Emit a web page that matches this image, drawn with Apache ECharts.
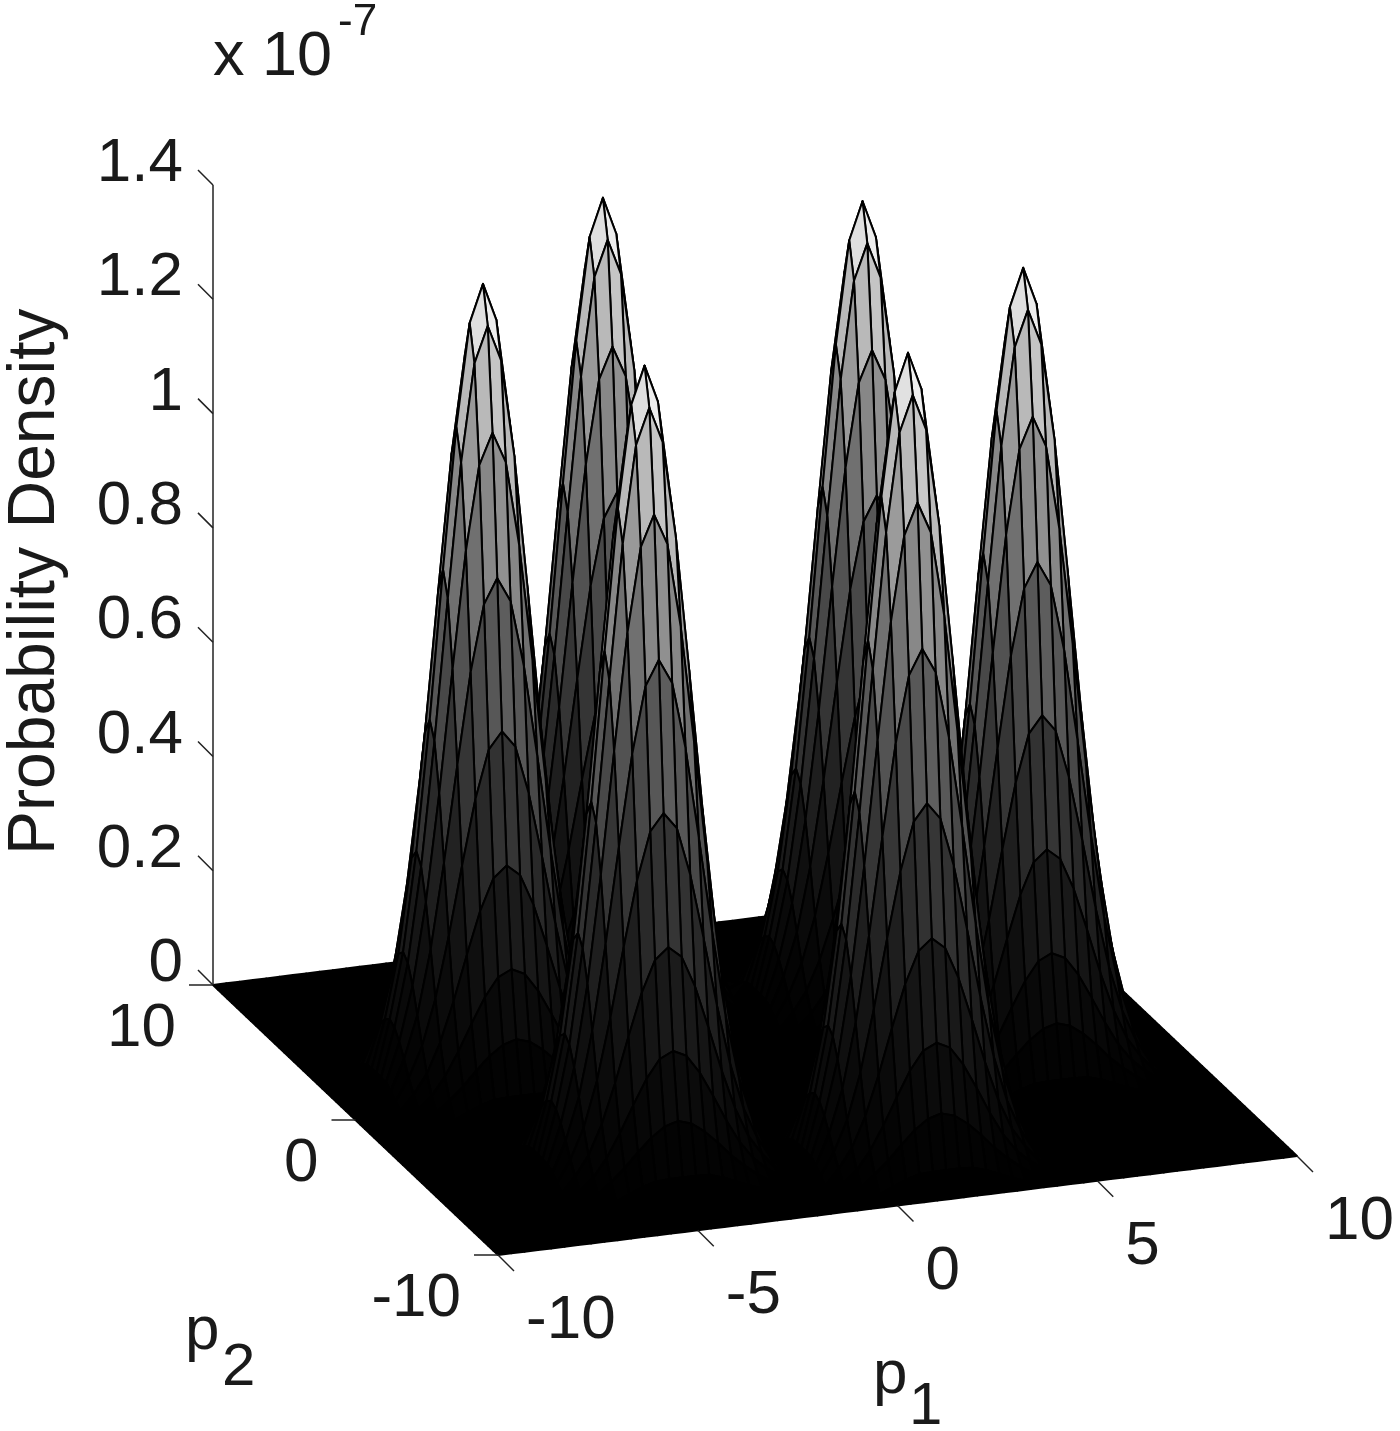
<!DOCTYPE html>
<html>
<head>
<meta charset="utf-8">
<title>Probability Density</title>
<script src="https://cdn.jsdelivr.net/npm/echarts@6/dist/echarts.min.js"></script>
<style>
  html, body { margin: 0; padding: 0; background: #fff; }
  #chart { width: 1400px; height: 1431px; }
</style>
</head>
<body>
<div id="chart"></div>
<script>
const p1Ticks = [-10, -5, 0, 5, 10];
const p2Ticks = [-10, 0, 10];
const zTicks = [0, 0.2, 0.4, 0.6, 0.8, 1, 1.2, 1.4];

// mesh spacing on both p axes, in p units
const meshStep = 1 / 3;
const meshSize = 61;

// where the six peaks stand, as mesh indices, and how tall they are (x 10^-7)
const peakCols = [11, 25, 16, 42, 34, 48];
const peakRows = [34, 48, 14, 41, 9, 24];
const peakHeights = [1.40, 1.40, 1.40, 1.40, 1.41, 1.40];

// shape of one peak around its top, percent of its height
const peakShape = [
  [0, 0, 0, 0, 0, 0, 0, 0, 0, 0, 0, 0, 0, 0, 0, 0, 0, 0, 0, 0, 0],
  [0, 0, 0, 0, 0, 0, 0, 0, 0, 0, 0, 0, 0, 0, 0, 0, 0, 0, 0, 0, 0],
  [0, 0, 0, 0.1, 0.4, 1.0, 1.7, 2.4, 2.9, 3.0, 3.0, 3.0, 2.9, 2.4, 1.7, 1.0, 0.4, 0.1, 0, 0, 0],
  [0, 0, 0.1, 0.5, 1.6, 2.9, 4.4, 6.2, 7.8, 9.0, 9.5, 9.0, 7.8, 6.2, 4.4, 2.9, 1.6, 0.5, 0.1, 0, 0],
  [0, 0, 0.4, 1.6, 3.1, 5.3, 8.2, 11.5, 14.6, 16.9, 17.7, 16.9, 14.6, 11.5, 8.2, 5.3, 3.1, 1.6, 0.4, 0, 0],
  [0, 0, 1.0, 2.9, 5.3, 9.0, 13.9, 19.5, 24.8, 28.7, 30.1, 28.7, 24.8, 19.5, 13.9, 9.0, 5.3, 2.9, 1.0, 0, 0],
  [0, 0, 1.7, 4.4, 8.2, 13.9, 21.5, 30.1, 38.2, 44.2, 46.3, 44.2, 38.2, 30.1, 21.5, 13.9, 8.2, 4.4, 1.7, 0, 0],
  [0, 0, 2.4, 6.2, 11.5, 19.5, 30.1, 42.1, 53.5, 61.8, 64.9, 61.8, 53.5, 42.1, 30.1, 19.5, 11.5, 6.2, 2.4, 0, 0],
  [0, 0, 2.9, 7.8, 14.6, 24.8, 38.2, 53.5, 68.1, 78.6, 82.5, 78.6, 68.1, 53.5, 38.2, 24.8, 14.6, 7.8, 2.9, 0, 0],
  [0, 0, 3.0, 9.0, 16.9, 28.7, 44.2, 61.8, 78.6, 90.8, 95.3, 90.8, 78.6, 61.8, 44.2, 28.7, 16.9, 9.0, 3.0, 0, 0],
  [0, 0, 3.0, 9.5, 17.7, 30.1, 46.3, 64.9, 82.5, 95.3, 100, 95.3, 82.5, 64.9, 46.3, 30.1, 17.7, 9.5, 3.0, 0, 0],
  [0, 0, 3.0, 9.0, 16.9, 28.7, 44.2, 61.8, 78.6, 90.8, 95.3, 90.8, 78.6, 61.8, 44.2, 28.7, 16.9, 9.0, 3.0, 0, 0],
  [0, 0, 2.9, 7.8, 14.6, 24.8, 38.2, 53.5, 68.1, 78.6, 82.5, 78.6, 68.1, 53.5, 38.2, 24.8, 14.6, 7.8, 2.9, 0, 0],
  [0, 0, 2.4, 6.2, 11.5, 19.5, 30.1, 42.1, 53.5, 61.8, 64.9, 61.8, 53.5, 42.1, 30.1, 19.5, 11.5, 6.2, 2.4, 0, 0],
  [0, 0, 1.7, 4.4, 8.2, 13.9, 21.5, 30.1, 38.2, 44.2, 46.3, 44.2, 38.2, 30.1, 21.5, 13.9, 8.2, 4.4, 1.7, 0, 0],
  [0, 0, 1.0, 2.9, 5.3, 9.0, 13.9, 19.5, 24.8, 28.7, 30.1, 28.7, 24.8, 19.5, 13.9, 9.0, 5.3, 2.9, 1.0, 0, 0],
  [0, 0, 0.4, 1.6, 3.1, 5.3, 8.2, 11.5, 14.6, 16.9, 17.7, 16.9, 14.6, 11.5, 8.2, 5.3, 3.1, 1.6, 0.4, 0, 0],
  [0, 0, 0.1, 0.5, 1.6, 2.9, 4.4, 6.2, 7.8, 9.0, 9.5, 9.0, 7.8, 6.2, 4.4, 2.9, 1.6, 0.5, 0.1, 0, 0],
  [0, 0, 0, 0.1, 0.4, 1.0, 1.7, 2.4, 2.9, 3.0, 3.0, 3.0, 2.9, 2.4, 1.7, 1.0, 0.4, 0.1, 0, 0, 0],
  [0, 0, 0, 0, 0, 0, 0, 0, 0, 0, 0, 0, 0, 0, 0, 0, 0, 0, 0, 0, 0],
  [0, 0, 0, 0, 0, 0, 0, 0, 0, 0, 0, 0, 0, 0, 0, 0, 0, 0, 0, 0, 0]
];

const fontFamily = '"Liberation Sans", Arial, sans-serif';

// lay the six peaks onto the flat mesh
const surface = [];
for (let j = 0; j < meshSize; j++) {
  surface.push(new Array(meshSize).fill(0));
}
peakCols.forEach((col, k) => {
  peakShape.forEach((shapeRow, dj) => {
    shapeRow.forEach((pct, di) => {
      const i = col + di - 10;
      const j = peakRows[k] + dj - 10;
      if (i >= 0 && i < meshSize && j >= 0 && j < meshSize) {
        surface[j][i] += (pct / 100) * peakHeights[k];
      }
    });
  });
});
const zMax = Math.max(...surface.map(row => Math.max(...row)));

// MATLAB style view: orthographic, (p1, p2, z) to page units
function project(p1, p2, z) {
  return [
    498 + 39.95 * (p1 + 10) - 14.25 * (p2 + 10),
    1255 - 4.95 * (p1 + 10) - 13.5 * (p2 + 10) - 571.4 * z
  ];
}

function meshPoint(api, i, j) {
  return api.coord(project(-10 + i * meshStep, -10 + j * meshStep, surface[j][i]));
}

// back cells first so that the front ones paint over them
const cells = [];
for (let j = meshSize - 2; j >= 0; j--) {
  for (let i = meshSize - 2; i >= 0; i--) {
    cells.push([i, j]);
  }
}

function renderCell(params, api) {
  const i = api.value(0);
  const j = api.value(1);
  // the printed gray map runs a bit darker than linear
  const level = Math.round(Math.pow(surface[j][i] / zMax, 1.3) * 255);
  return {
    type: 'polygon',
    shape: {
      points: [
        meshPoint(api, i, j),
        meshPoint(api, i + 1, j),
        meshPoint(api, i + 1, j + 1),
        meshPoint(api, i, j + 1)
      ]
    },
    style: {
      fill: 'rgb(' + level + ',' + level + ',' + level + ')',
      stroke: '#000',
      lineWidth: 2,
      lineJoin: 'round'
    }
  };
}

function tickGroup(api, base, dx, dy, label, textStyle) {
  return {
    type: 'group',
    children: [
      {
        type: 'line',
        shape: { x1: base[0], y1: base[1], x2: base[0] + dx, y2: base[1] + dy },
        style: { stroke: '#222', lineWidth: 1.5 }
      },
      {
        type: 'text',
        style: Object.assign(
          { text: label, font: '62px ' + fontFamily, fill: '#1a1a1a', verticalAlign: 'middle' },
          textStyle
        )
      }
    ]
  };
}

function renderP1Tick(params, api) {
  const v = api.value(0);
  const base = api.coord(project(v, -10, 0));
  return tickGroup(api, base, 16, 16, String(v), { x: base[0] + 28, y: base[1] + 66, align: 'left' });
}

function renderP2Tick(params, api) {
  const v = api.value(0);
  const base = api.coord(project(-10, v, 0));
  return tickGroup(api, base, -24, 0, String(v), { x: base[0] - 37, y: base[1] + 44, align: 'right' });
}

function renderZTick(params, api) {
  const v = api.value(0);
  const base = api.coord(project(-10, 10, v));
  return tickGroup(api, base, -15, -15, String(v), { x: base[0] - 30, y: base[1] - 21, align: 'right' });
}

function renderZLine(params, api) {
  const from = api.coord(project(-10, 10, zTicks[0]));
  const to = api.coord(project(-10, 10, zTicks[zTicks.length - 1]));
  return {
    type: 'line',
    shape: { x1: from[0], y1: from[1], x2: to[0], y2: to[1] },
    style: { stroke: '#222', lineWidth: 1.5 }
  };
}

function customSeries(data, renderItem) {
  return {
    type: 'custom',
    coordinateSystem: 'cartesian2d',
    data: data,
    renderItem: renderItem,
    clip: false,
    silent: true,
    animation: false,
    progressive: 0,
    encode: { x: 0 }
  };
}

function label(text, x, y, size, extra) {
  return Object.assign(
    {
      type: 'text',
      x: x,
      y: y,
      silent: true,
      style: { text: text, font: size + 'px ' + fontFamily, fill: '#1a1a1a', align: 'left', verticalAlign: 'top' }
    },
    extra
  );
}

const chart = echarts.init(document.getElementById('chart'), null, { renderer: 'canvas' });

chart.setOption({
  animation: false,
  tooltip: { show: false },
  grid: { left: 0, right: 0, top: 0, bottom: 0 },
  xAxis: { type: 'value', min: 0, max: 1400, show: false },
  yAxis: { type: 'value', min: 0, max: 1431, inverse: true, show: false },
  graphic: [
    label('x 10', 213, 26, 63),
    label('-7', 338, 1, 44),
    label('Probability Density', 3, 855, 66, { rotation: Math.PI / 2 }),
    label('p', 185, 1301, 62),
    label('2', 222, 1338, 60),
    label('p', 873, 1345, 62),
    label('1', 909, 1377, 60)
  ],
  series: [
    customSeries(cells, renderCell),
    customSeries([0], renderZLine),
    customSeries(zTicks.map(v => [v]), renderZTick),
    customSeries(p1Ticks.map(v => [v]), renderP1Tick),
    customSeries(p2Ticks.map(v => [v]), renderP2Tick)
  ]
});
</script>
</body>
</html>
